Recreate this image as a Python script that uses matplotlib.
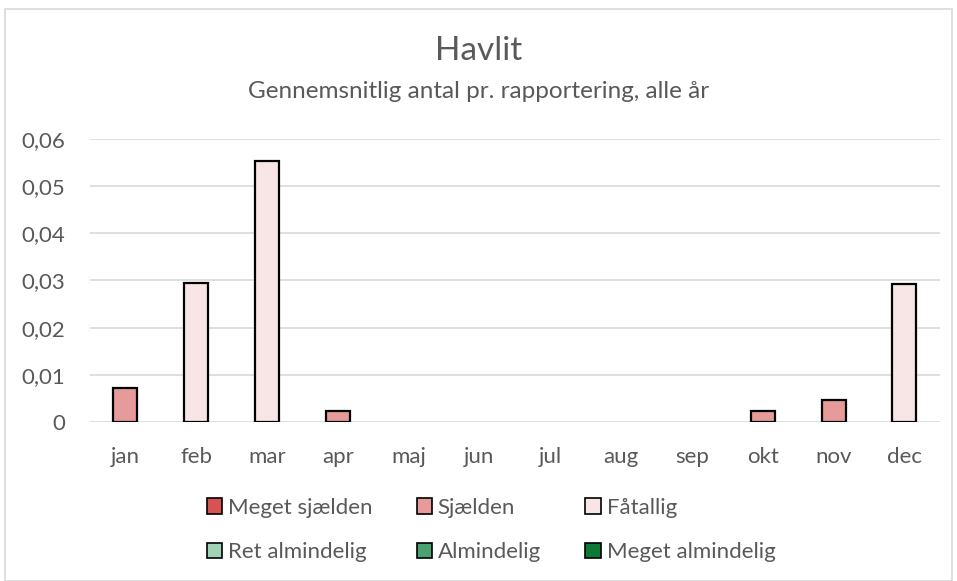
import matplotlib.pyplot as plt
from matplotlib.patches import Patch, Rectangle

plt.rcParams['font.family'] = ['Lato', 'DejaVu Sans']

months = ["jan", "feb", "mar", "apr", "maj", "jun", "jul", "aug", "sep", "okt", "nov", "dec"]

# one value per month for each abundance class (stacked)
meget_sjaelden = [0, 0, 0, 0, 0, 0, 0, 0, 0, 0, 0, 0]
sjaelden = [0.0072, 0, 0, 0.0023, 0, 0, 0, 0, 0, 0.0023, 0.0047, 0]
faatallig = [0, 0.0294, 0.0553, 0, 0, 0, 0, 0, 0, 0, 0, 0.0292]
ret_almindelig = [0, 0, 0, 0, 0, 0, 0, 0, 0, 0, 0, 0]
almindelig = [0, 0, 0, 0, 0, 0, 0, 0, 0, 0, 0, 0]
meget_almindelig = [0, 0, 0, 0, 0, 0, 0, 0, 0, 0, 0, 0]

series = [
    ("Meget sjælden", meget_sjaelden, "#d65353"),
    ("Sjælden", sjaelden, "#e69a9a"),
    ("Fåtallig", faatallig, "#f8e5e6"),
    ("Ret almindelig", ret_almindelig, "#a0d3b5"),
    ("Almindelig", almindelig, "#4aa271"),
    ("Meget almindelig", meget_almindelig, "#0b7a36"),
]

fig = plt.figure(figsize=(9.57, 5.81), dpi=100)
fig.patches.append(Rectangle((0.005, 0.0), 0.99, 0.985, transform=fig.transFigure,
                             fill=False, edgecolor="#d9d9d9", linewidth=1.2))
ax = fig.add_axes([0.094, 0.2737, 0.888, 0.4871])

bottom = [0.0] * len(months)
handles = []
for name, vals, color in series:
    xs = [i for i, v in enumerate(vals) if v > 0]
    ax.bar(xs, [vals[i] for i in xs], bottom=[bottom[i] for i in xs], width=0.34,
           color=color, edgecolor="black", linewidth=1.6, zorder=3)
    bottom = [b + v for b, v in zip(bottom, vals)]
    handles.append(Patch(facecolor=color, edgecolor="black", linewidth=1.2, label=name))

ax.set_xlim(-0.5, 11.5)
ax.set_ylim(0, 0.06)
ax.set_yticks([0, 0.01, 0.02, 0.03, 0.04, 0.05, 0.06])
ax.set_yticklabels(["0", "0,01", "0,02", "0,03", "0,04", "0,05", "0,06"])
ax.set_xticks(range(len(months)))
ax.set_xticklabels(months)
ax.tick_params(axis="both", length=0, labelsize=16, labelcolor="#595959")
ax.tick_params(axis="x", pad=18)
ax.tick_params(axis="y", pad=18)
ax.grid(axis="y", color="#d9d9d9", linewidth=1.2, zorder=0)
for s in ax.spines.values():
    s.set_visible(False)

fig.text(0.5, 0.912, "Havlit", ha="center", va="center", fontsize=24, color="#595959")
fig.text(0.5, 0.843, "Gennemsnitlig antal pr. rapportering, alle år", ha="center",
         va="center", fontsize=17.5, color="#595959")

order = [0, 3, 1, 4, 2, 5]
leg = fig.legend([handles[i] for i in order], [handles[i].get_label() for i in order],
                 ncol=3, loc="center", bbox_to_anchor=(0.513, 0.088), frameon=False,
                 fontsize=16, handlelength=0.7, handleheight=0.7, handletextpad=0.25,
                 columnspacing=2.0, labelspacing=1.1)
for t in leg.get_texts():
    t.set_color("#595959")

fig.savefig("out.png", dpi=100)
